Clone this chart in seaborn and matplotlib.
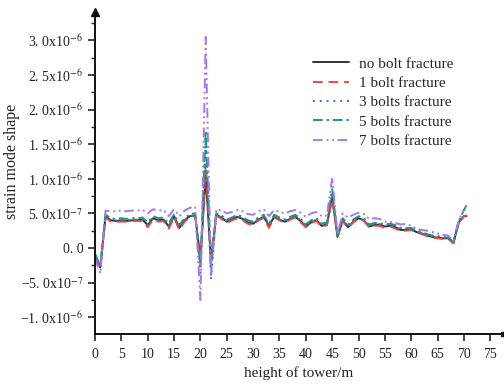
import numpy as np
import pandas as pd
import matplotlib
matplotlib.use("Agg")
import matplotlib.pyplot as plt
import seaborn as sns

# heights (m)
height = list(range(0, 71)) + [70.5]

# strain mode shape values, unit 1e-7
no_bolt = [-1.0, -2.8, 4.6, 4.0, 3.9, 4.0, 3.9, 4.0, 4.0, 4.1,
           3.3, 4.3, 4.0, 4.1, 3.1, 4.6, 2.9, 4.0, 4.6, 4.7,
           -1.5, 10.5, -2.0, 4.8, 4.4, 3.8, 4.1, 4.5, 4.2, 3.7,
           3.5, 4.1, 4.5, 3.2, 4.5, 4.1, 3.8, 4.2, 4.5, 3.9,
           3.1, 3.7, 4.0, 3.2, 3.4, 7.4, 1.6, 4.0, 3.0, 3.8,
           4.3, 4.0, 3.1, 3.3, 3.4, 3.1, 3.2, 3.0, 2.6, 2.6,
           2.7, 2.3, 2.1, 1.8, 1.6, 1.5, 1.4, 1.4, 0.7, 3.7,
           4.6, 4.6]
bolt1 = [-1.2, -3.0, 4.4, 3.8, 3.8, 3.8, 3.8, 3.9, 3.9, 3.9,
         3.0, 4.1, 3.8, 3.9, 2.8, 4.4, 2.6, 3.8, 4.5, 4.6,
         -2.2, 12.0, -1.2, 4.7, 4.2, 3.6, 4.0, 4.3, 4.0, 3.5,
         3.3, 4.0, 4.3, 2.9, 4.4, 4.0, 3.6, 4.1, 4.4, 3.7,
         3.0, 3.6, 3.9, 3.0, 3.3, 7.0, 1.7, 3.9, 2.9, 3.7,
         4.2, 3.9, 3.0, 3.2, 3.2, 2.9, 3.1, 2.8, 2.4, 2.5,
         2.6, 2.2, 2.0, 1.7, 1.5, 1.4, 1.3, 1.3, 0.7, 3.6,
         4.6, 4.7]
bolt3 = [-0.9, -2.7, 4.6, 4.0, 4.0, 4.0, 4.0, 4.1, 4.1, 4.1,
         3.4, 4.3, 4.1, 4.1, 3.2, 4.6, 3.0, 4.1, 4.6, 4.8,
         -3.6, 15.5, -4.5, 4.8, 4.4, 3.9, 4.2, 4.5, 4.2, 3.8,
         3.6, 4.2, 4.5, 3.3, 4.5, 4.1, 3.9, 4.3, 4.5, 4.0,
         3.2, 3.8, 4.1, 3.3, 3.5, 8.0, 1.5, 4.1, 3.1, 3.9,
         4.3, 4.0, 3.2, 3.4, 3.4, 3.2, 3.3, 3.1, 2.7, 2.7,
         2.7, 2.3, 2.1, 1.9, 1.7, 1.6, 1.5, 1.4, 0.8, 3.8,
         4.6, 4.6]
bolt5 = [-0.8, -2.6, 4.8, 4.3, 4.2, 4.3, 4.2, 4.3, 4.3, 4.4,
         3.7, 4.6, 4.3, 4.4, 3.5, 4.9, 3.3, 4.3, 4.9, 5.0,
         -2.5, 17.0, -3.0, 5.0, 4.7, 4.1, 4.4, 4.8, 4.5, 4.0,
         3.8, 4.4, 4.8, 3.5, 4.8, 4.4, 4.1, 4.5, 4.8, 4.2,
         3.4, 4.0, 4.3, 3.5, 3.7, 8.5, 1.8, 4.3, 3.4, 4.1,
         4.6, 4.3, 3.4, 3.6, 3.6, 3.4, 3.5, 3.3, 2.9, 2.9,
         2.9, 2.5, 2.3, 2.0, 1.8, 1.7, 1.6, 1.5, 0.9, 3.9,
         5.5, 6.2]
bolt7 = [-1.5, -3.7, 5.4, 5.3, 5.3, 5.4, 5.3, 5.4, 5.4, 5.5,
         5.0, 5.6, 5.4, 5.5, 4.6, 5.6, 4.6, 5.4, 5.8, 6.0,
         -7.5, 30.5, -4.2, 5.6, 5.4, 5.0, 5.2, 5.5, 5.3, 4.9,
         4.8, 5.3, 5.6, 4.6, 5.5, 5.2, 5.0, 5.3, 5.5, 5.1,
         4.5, 5.0, 5.2, 4.6, 4.7, 10.2, 2.0, 5.0, 4.4, 4.8,
         5.1, 4.9, 4.2, 4.3, 4.2, 3.8, 3.8, 3.6, 3.4, 3.5,
         3.2, 2.8, 2.6, 2.5, 2.3, 2.1, 1.9, 1.8, 1.0, 4.0,
         5.5, 6.2]

labels = ["no bolt fracture", "1 bolt fracture", "3 bolts fracture",
          "5 bolts fracture", "7 bolts fracture"]
series = [no_bolt, bolt1, bolt3, bolt5, bolt7]
colors = ["#333333", "#F0464A", "#3A6FC8", "#1E957A", "#A779E6"]
dash_styles = ["", (5, 3), (1, 2.5), (5, 2, 1.2, 2), (5, 2, 1, 1.8, 1, 1.8)]

rows = []
for lab, vals in zip(labels, series):
    for h, v in zip(height, vals):
        rows.append({"height": h, "strain": v * 1e-7, "case": lab})
df = pd.DataFrame(rows)

sns.set_style("ticks")
plt.rcParams["font.family"] = ["Liberation Serif", "DejaVu Serif"]
plt.rcParams["mathtext.fontset"] = "stix"

fig = plt.figure(figsize=(5.04, 3.88), dpi=100)
ax = fig.add_axes([95 / 504, 54 / 388, 408 / 504, 322 / 388])

sns.lineplot(data=df, x="height", y="strain", hue="case", style="case",
             hue_order=labels, style_order=labels,
             palette=dict(zip(labels, colors)),
             dashes=dict(zip(labels, dash_styles)),
             linewidth=1.4, ax=ax, legend=False, sort=False,
             estimator=None)

ax.set_xlim(0, 77.4)
ax.set_ylim(-1.243e-6, 3.41e-6)
ax.set_xticks(np.arange(0, 80, 5))
ax.set_xticklabels([str(v) for v in range(0, 80, 5)])
yt = np.arange(-1.0e-6, 3.01e-6, 0.5e-6)
ax.set_yticks(yt)
ylabels = []
for v in yt:
    if abs(v) < 1e-12:
        ylabels.append("0. 0")
    else:
        exp = int(np.floor(np.log10(abs(v)) + 1e-9))
        m = v / 10 ** exp
        mant = ("%.1f" % abs(m)).replace(".", ". ")
        sign = "\u2212" if m < 0 else ""
        ylabels.append(sign + mant + "x10$^{%d}$" % exp)
ax.set_yticklabels(ylabels)
ax.set_yticks(np.arange(-0.75e-6, 3.3e-6, 0.5e-6), minor=True)

ax.tick_params(axis="both", which="major", direction="out", length=5, width=1.2,
               labelsize=10, colors="#222222")
ax.tick_params(axis="x", which="major", pad=5)
ax.tick_params(axis="y", which="minor", direction="out", length=3, width=1.0)
for s in ["top", "right"]:
    ax.spines[s].set_visible(False)
for s in ["left", "bottom"]:
    ax.spines[s].set_linewidth(1.4)
    ax.spines[s].set_color("#111111")

ax.plot([0], [1], marker="^", color="#111111", markersize=6,
        transform=ax.transAxes, clip_on=False)
ax.plot([1], [0], marker="s", color="#111111", markersize=3,
        transform=ax.transAxes, clip_on=False)

ax.set_xlabel("height of tower/m", fontsize=11, color="#222222", labelpad=4)
ax.set_ylabel("strain mode shape", fontsize=11.5, color="#222222")
ax.yaxis.set_label_coords(-0.185, 0.535)

ax.legend(ax.lines[:5], labels, loc="upper left", bbox_to_anchor=(0.5, 0.903),
          frameon=False, fontsize=11, handlelength=2.4, labelspacing=0.37,
          handletextpad=0.6)

fig.savefig("out.png", dpi=100)
